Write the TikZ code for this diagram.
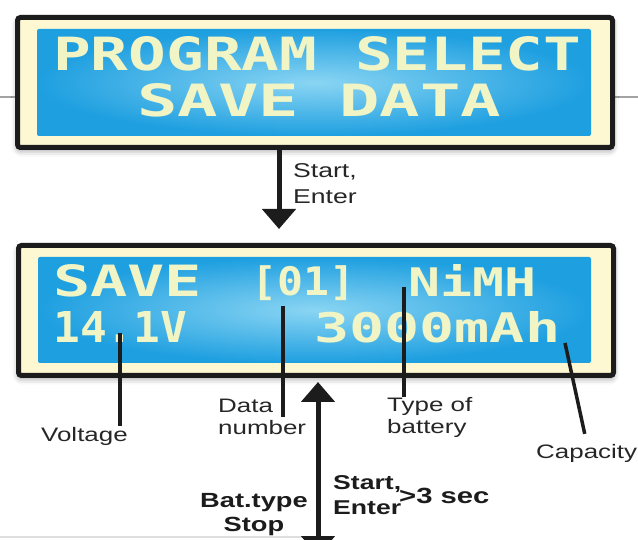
\documentclass[tikz,border=0pt]{standalone}
\usepackage{fontspec}
\setmainfont{Liberation Sans}
\newfontfamily\lblfont[FakeStretch=1.33]{Liberation Sans}
\newfontfamily\lcdfont{DejaVu Sans Mono}
\usetikzlibrary{arrows.meta,shadows.blur}
\definecolor{ink}{HTML}{1C1C1C}
\definecolor{bezel}{HTML}{FEF8D2}
\definecolor{lcdblue}{HTML}{1E9FE0}
\definecolor{lcdglow}{HTML}{8AD5F3}
\definecolor{pixel}{HTML}{F1F4C4}
\definecolor{labelink}{HTML}{262626}
\definecolor{backrule}{HTML}{A3A3A3}

\begin{document}
\begin{tikzpicture}[x=1pt, y=-1pt]
  % one unit is one pixel of the 638x540 frame, y running down
  \clip (0,0) rectangle (638,540);
  \tikzset{
    lcdframe/.style={draw=ink, line width=5pt, fill=bezel, rounded corners=3pt,
                     minimum width=595pt, minimum height=130pt, inner sep=0pt,
                     blur shadow={shadow xshift=0pt, shadow yshift=-3pt,
                                  shadow blur radius=6pt, shadow opacity=40}},
    lcdpanel/.style={inner sep=0pt, rounded corners=2pt,
                     inner color=lcdglow, outer color=lcdblue},
    lcdtext/.style={inner sep=0pt, anchor=south west, text=pixel,
                    font=\lcdfont\bfseries},
    callout/.style={draw=ink, line width=3.5pt},
    lbl/.style={inner sep=1pt, anchor=base west, align=left, text=labelink,
                font=\lblfont\fontsize{19.5}{22}\selectfont},
    keylbl/.style={inner sep=1pt, anchor=base west, text=ink,
                   font=\lblfont\bfseries\fontsize{20}{25}\selectfont},
    flow/.style={draw=ink, line width=5pt,
                 -{Triangle[length=20pt, width=33pt]}}}

  % the page behind the screens
  \draw[backrule, line width=2.5pt] (0,97) -- (638,97);
  \draw[backrule!35, line width=2pt] (0,537) -- (318,537);

  % ========== SCREEN 1: program select ======================================
  \node[lcdframe] (selbox) at (315,82.5) {};
  \node[lcdpanel, minimum width=554pt, minimum height=107pt] (selpanel)
    at (314,82.5) {};
  \node[lcdtext] (progsel) at (53,71) {\resizebox{528pt}{34pt}{PROGRAM SELECT}};
  \node[lcdtext] (savedata) at (137,117) {\resizebox{364pt}{33pt}{SAVE DATA}};

  % ========== SCREEN 2: save data ===========================================
  \node[lcdframe] (savebox) at (316,310.5) {};
  \node[lcdpanel, minimum width=553pt, minimum height=106pt] (savepanel)
    at (314.5,310) {};
  \node[lcdtext] (savew) at (53,297) {\resizebox{149pt}{32pt}{SAVE}};
  \node[lcdtext, anchor=north west] (slot) at (251,265)
    {\resizebox*{104pt}{35pt}{[01]}};
  \node[lcdtext] (chem) at (408,297) {\resizebox{128pt}{32pt}{NiMH}};
  \node[lcdtext] (volts) at (53,343) {\resizebox{134pt}{31pt}{14.1V}};
  \node[lcdtext] (mah) at (314,343) {\resizebox{246pt}{31pt}{3000mAh}};

  % --- the flow between the two screens --------------------------------------
  % (a node of several lines sits on the baseline of its LAST line)
  \coordinate (entx) at (279,0);
  \draw[flow, shorten >=14pt] (selbox.south -| entx) -- (savebox.north -| entx);
  \node[lbl, font=\lblfont\fontsize{20}{26}\selectfont] (startent)
    at (292,204) {Start,\\Enter};

  % --- what each field means ---------------------------------------------------
  \coordinate (voltdot) at (120,333);
  \coordinate (numdot) at (283,306);
  \coordinate (typedot) at (404,287);
  \coordinate (capdot) at (565,343);
  \node[lbl] (volt) at (40,441) {Voltage};
  \node[lbl] (datnum) at (217,435) {Data\\number};
  \node[lbl] (typelab) at (386,434) {Type of\\battery};
  \node[lbl] (caplab) at (535,458) {Capacity};
  \draw[callout] (voltdot) -- (voltdot |- volt.north);
  \draw[callout] (numdot) -- (numdot |- datnum.center);
  \draw[callout] (typedot) -- (typedot |- typelab.north);
  \draw[callout, shorten >=9pt] (capdot) -- (caplab.north);

  % --- the way on, down and back ---------------------------------------------
  \coordinate (downend) at (318,556);
  \draw[flow, {Triangle[length=20pt, width=33pt]}-{Triangle[length=20pt, width=33pt]},
        shorten <=4pt] (savebox.south -| downend) -- (downend);
  \node[keylbl, anchor=base, align=center, font=\lblfont\bfseries\fontsize{20.5}{24}\selectfont]
    (backkeys) at (254,531) {Bat.type\\Stop};
  \node[keylbl, align=left] (onkeys) at (332,514) {Start,\\Enter};
  \node[keylbl, font=\lblfont\bfseries\fontsize{22}{25}\selectfont] (hold)
    at (398,503) {>3 sec};
\end{tikzpicture}
\end{document}
